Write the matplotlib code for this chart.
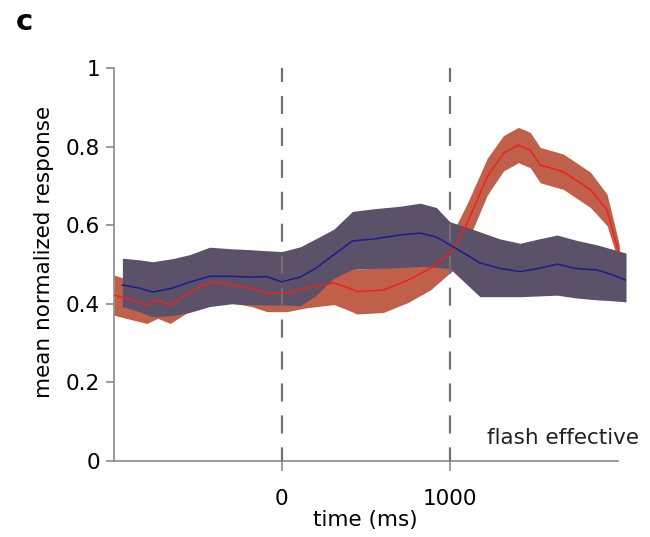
import matplotlib
matplotlib.use("Agg")
import matplotlib.pyplot as plt
import numpy as np

plt.rcParams['font.family'] = ['DejaVu Sans']
plt.rcParams['lines.scale_dashes'] = False

# blue condition (mean and band), time in ms
blue_t = [-950, -850, -770, -650, -550, -430, -300, -200, -90, 0, 110, 200,
          310, 420, 550, 700, 824, 920, 1000, 1100, 1180, 1300, 1419, 1530,
          1640, 1750, 1878, 1960, 2050]
blue_mean = [0.448, 0.44, 0.43, 0.44, 0.455, 0.47, 0.47, 0.468, 0.469, 0.456,
             0.468, 0.49, 0.525, 0.56, 0.565, 0.575, 0.58, 0.57, 0.55, 0.525,
             0.504, 0.49, 0.482, 0.49, 0.501, 0.49, 0.486, 0.475, 0.46]
blue_hi = [0.516, 0.512, 0.507, 0.515, 0.525, 0.544, 0.54, 0.538, 0.535, 0.533,
           0.545, 0.565, 0.59, 0.635, 0.642, 0.648, 0.656, 0.645, 0.609, 0.595,
           0.583, 0.565, 0.554, 0.565, 0.575, 0.562, 0.55, 0.54, 0.529]
blue_lo = [0.393, 0.38, 0.367, 0.37, 0.378, 0.393, 0.4, 0.398, 0.397, 0.397,
           0.395, 0.42, 0.465, 0.488, 0.49, 0.492, 0.495, 0.493, 0.49, 0.45,
           0.418, 0.418, 0.418, 0.42, 0.422, 0.415, 0.41, 0.408, 0.405]

# red condition (mean and half-width of band)
red_t = [-1000, -900, -805, -740, -665, -580, -487, -407, -288, -180, -88, 30,
         150, 310, 400, 447, 605, 750, 884, 1024, 1104, 1223, 1320, 1409, 1480,
         1539, 1677, 1838, 1937, 1987, 2010]
red_mean = [0.422, 0.41, 0.397, 0.41, 0.397, 0.42, 0.444, 0.456, 0.448, 0.44,
            0.427, 0.427, 0.44, 0.453, 0.44, 0.431, 0.435, 0.46, 0.49, 0.537,
            0.605, 0.723, 0.783, 0.804, 0.791, 0.753, 0.736, 0.69, 0.639,
            0.562, 0.53]
red_err = [0.051, 0.05, 0.047, 0.047, 0.047, 0.047, 0.047, 0.047, 0.047, 0.047,
           0.047, 0.047, 0.05, 0.055, 0.057, 0.057, 0.057, 0.057, 0.055, 0.05,
           0.05, 0.047, 0.045, 0.045, 0.045, 0.045, 0.045, 0.045, 0.04, 0.03,
           0.02]

xticks = [0, 1000]
yticks = [0, 0.2, 0.4, 0.6, 0.8, 1]
ytick_labels = ['0', '0.2', '0.4', '0.6', '0.8', '1']

blue_band = '#5b5168'
red_band = '#c0604a'
blue_line = '#1c1c90'
red_line = '#f02020'
axis_gray = '#8a8a8a'


def main():
    fig = plt.figure(figsize=(6.5, 5.37), dpi=100)
    ax = fig.add_axes([114 / 650, 1 - 461 / 537, (626 - 114) / 650, 393 / 537])

    rm = np.array(red_mean)
    re = np.array(red_err)
    ax.fill_between(red_t, rm - re, rm + re, color=red_band, lw=0, zorder=1)
    ax.fill_between(blue_t, blue_lo, blue_hi, color=blue_band, lw=0, zorder=2)

    for x in xticks:
        ax.plot([x, x], [1.01, 0], color='#707070', lw=1.6,
                dashes=(13, 10), zorder=3)

    ax.plot(red_t, red_mean, color=red_line, lw=1.1, zorder=4)
    ax.plot(blue_t, blue_mean, color=blue_line, lw=1.1, zorder=4)

    ax.set_xlim(-1000, 2050)
    ax.set_ylim(0, 1)
    ax.set_xticks(xticks)
    ax.set_xticklabels([str(x) for x in xticks])
    ax.set_yticks(yticks)
    ax.set_yticklabels(ytick_labels)

    for s in ['top', 'right']:
        ax.spines[s].set_visible(False)
    for s in ['left', 'bottom']:
        ax.spines[s].set_color(axis_gray)
        ax.spines[s].set_linewidth(1.2)
    ax.spines['bottom'].set_bounds(-1000, 2000)

    ax.tick_params(axis='x', direction='inout', length=14, width=1.2,
                   color=axis_gray, pad=13, labelsize=15.5)
    ax.tick_params(axis='y', direction='out', length=6, width=1.2,
                   color=axis_gray, pad=4, labelsize=15.5)

    ax.set_xlabel('time (ms)', fontsize=15.5)
    ax.set_ylabel('mean normalized response', fontsize=15.5)
    ax.xaxis.set_label_coords(0.491, -0.125)
    ax.yaxis.set_label_coords(-0.117, 0.532)

    ax.text(1223, 0.043, 'flash effective', fontsize=15.5, ha='left',
            va='baseline', color='#222222', clip_on=False)
    fig.text(0.037, 0.959, 'c', fontsize=21, fontweight='bold',
             ha='center', va='center')

    fig.savefig('out.png', dpi=100)


if __name__ == '__main__':
    main()
